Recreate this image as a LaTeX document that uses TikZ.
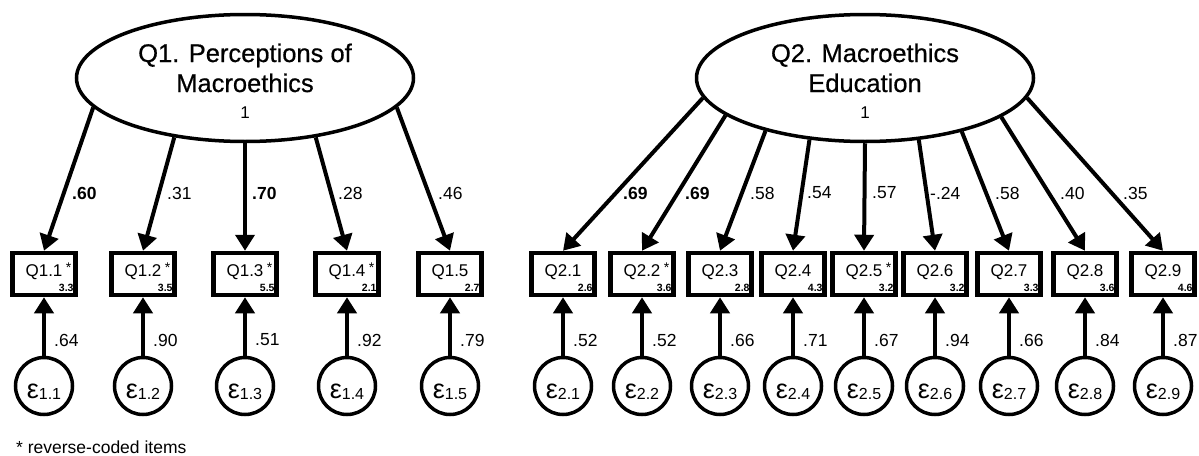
\documentclass[tikz,border=0pt]{standalone}
\usepackage{fontspec}
\setmainfont{Liberation Sans}
\newfontfamily\medfont[FakeBold=0.6]{Liberation Sans}
\usetikzlibrary{shapes.geometric,arrows.meta}
\newcommand\epsub[1]{{\fontsize{16}{16}\selectfont\raisebox{-1.5pt}{#1}}}
\begin{document}
\begin{tikzpicture}[x=1pt,y=-1pt,
  lat/.style={ellipse,draw,line width=3.5pt,minimum width=337pt,minimum height=127pt,inner sep=0pt},
  obs/.style={rectangle,draw,line width=4.5pt,minimum width=63pt,minimum height=42pt,inner sep=0pt},
  err/.style={circle,draw,line width=3.5pt,minimum size=57pt,inner sep=0pt},
  arr/.style={line width=4pt,-{Triangle[length=16pt,width=19pt]}},
  ttl/.style={font=\medfont\fontsize{25.5}{25.5}\selectfont,inner sep=0pt,anchor=base},
  one/.style={font=\fontsize{17}{17}\selectfont,inner sep=0pt,anchor=base},
  itm/.style={font=\fontsize{17}{17}\selectfont,inner sep=0pt,anchor=base},
  st/.style={font=\fontsize{14}{14}\selectfont,inner sep=0pt,anchor=base west,xshift=3pt,yshift=4pt},
  mean/.style={font=\fontsize{10.5}{10.5}\selectfont\bfseries,inner sep=0pt,anchor=base east},
  eps/.style={font=\fontsize{27}{27}\selectfont,inner sep=0pt,anchor=base},
  ldg/.style={font=\fontsize{17.5}{17.5}\selectfont,inner sep=0pt,anchor=west},
  bldg/.style={ldg,font=\fontsize{17.5}{17.5}\selectfont\bfseries},
  note/.style={font=\fontsize{17.5}{17.5}\selectfont,inner sep=0pt,anchor=base west}
]
\path[use as bounding box] (0,0) rectangle (1199,455);

% latent variables
\node[lat] (L1) at (245,78) {};
\node[ttl] (L1t1) at (245,62) {Q1. Perceptions of};
\node[ttl] (L1t2) at (245,92) {Macroethics};
\node[one] (L1v) at (245,118) {1};

\node[lat] (L2) at (865,78) {};
\node[ttl] (L2t1) at (865,62) {Q2. Macroethics};
\node[ttl] (L2t2) at (865,92) {Education};
\node[one] (L2v) at (865,118) {1};

% Q1 indicators
\foreach \i/\x/\v/\s/\e in {1/44/3.3/1/.64, 2/143/3.5/1/.90, 3/245/5.5/1/.51, 4/347/2.1/1/.92, 5/450/2.7/0/.79}{
  \node[obs] (a\i) at (\x,274) {};
  \node[itm] (ta\i) at (\x,276) {Q1.\i};
  \ifnum\s=1 \node[st] (sa\i) at (ta\i.base east) {*};\fi
  \node[mean] (ma\i) at ([xshift=-4pt,yshift=5.5pt]a\i.south east) {\v};
  \node[err] (ea\i) at (\x,386) {};
  \node[eps] (ta\i e) at (\x,398) {ε\epsub{1.\i}};
  \draw[arr] (ea\i) -- (a\i);
  \node[ldg] (la\i) at (\x+10,340) {\e};
}

% Q2 indicators
\foreach \i/\x/\v/\s/\e in {1/563/2.6/0/.52, 2/642/3.6/1/.52, 3/720/2.8/0/.66, 4/793/4.3/0/.71, 5/864/3.2/1/.67, 6/935/3.2/0/.94, 7/1009/3.3/0/.66, 8/1085/3.6/0/.84, 9/1163/4.6/0/.87}{
  \node[obs] (b\i) at (\x,274) {};
  \node[itm] (tb\i) at (\x,276) {Q2.\i};
  \ifnum\s=1 \node[st] (sb\i) at (tb\i.base east) {*};\fi
  \node[mean] (mb\i) at ([xshift=-4pt,yshift=5.5pt]b\i.south east) {\v};
  \node[err] (eb\i) at (\x,386) {};
  \node[eps] (tb\i e) at (\x,398) {ε\epsub{2.\i}};
  \draw[arr] (eb\i) -- (b\i);
  \node[ldg] (lb\i) at (\x+10,340) {\e};
}

% loadings Q1
\foreach \i/\a in {1/191, 2/220, 3/270, 4/320, 5/349}{
  \draw[arr] (L1.\a) -- (a\i.north);
}
\node[bldg] (p1) at (72,193) {.60};
\node[ldg]  (p2) at (167,193) {.31};
\node[bldg] (p3) at (252,193) {.70};
\node[ldg]  (p4) at (338,193) {.28};
\node[ldg]  (p5) at (438,193) {.46};

% loadings Q2
\foreach \i/\a in {1/187, 2/195.6, 3/208.6, 4/228.4, 5/270, 6/311.6, 7/331.4, 8/344.4, 9/353}{
  \draw[arr] (L2.\a) -- (b\i.north);
}
\node[bldg] (q1) at (623,193) {.69};
\node[bldg] (q2) at (685,193) {.69};
\node[ldg]  (q3) at (750,193) {.58};
\node[ldg]  (q4) at (807,193) {.54};
\node[ldg]  (q5) at (872,193) {.57};
\node[ldg]  (q6) at (930,193) {-.24};
\node[ldg]  (q7) at (995,193) {.58};
\node[ldg]  (q8) at (1060,193) {.40};
\node[ldg]  (q9) at (1123,193) {.35};

\node[note] (fn) at (16,453) {* reverse-coded items};
\end{tikzpicture}
\end{document}
